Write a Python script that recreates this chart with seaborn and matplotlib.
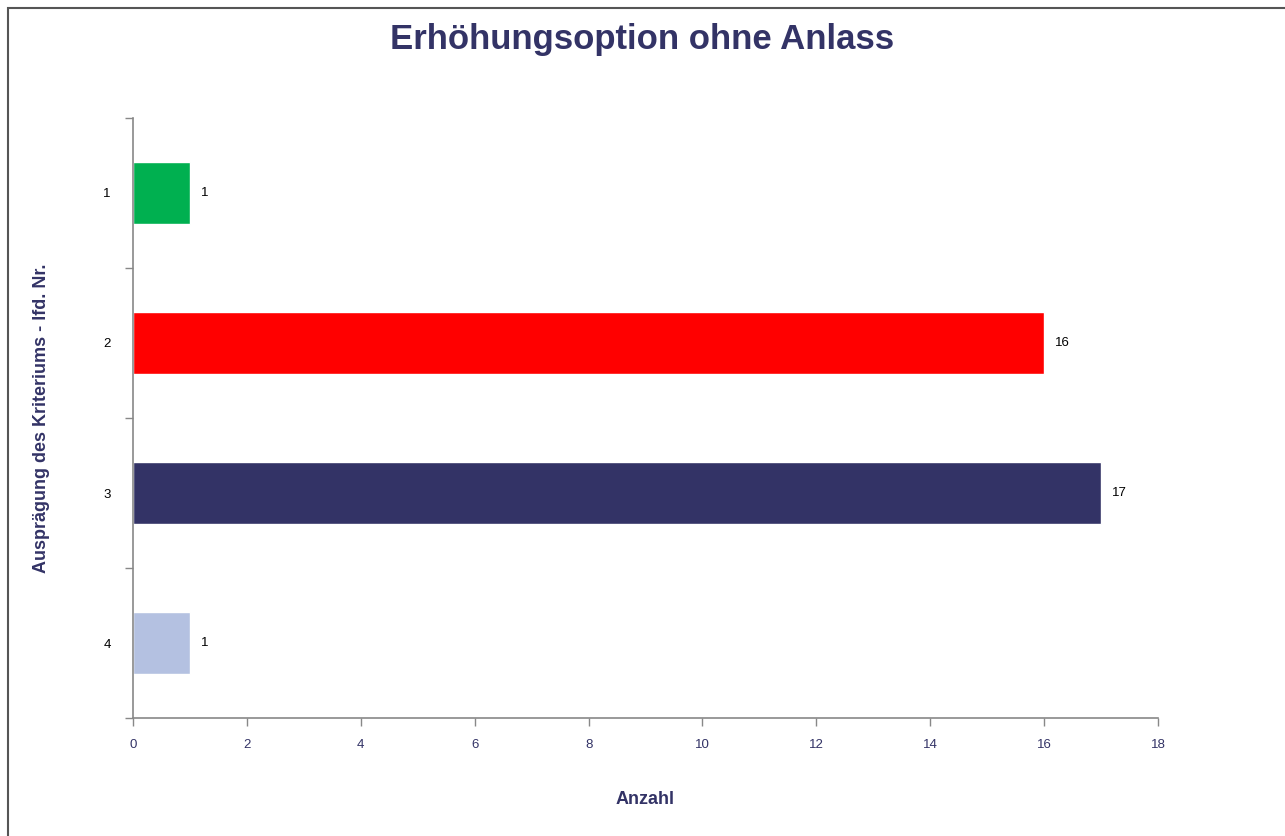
import numpy as np
import pandas as pd
import matplotlib
matplotlib.use("Agg")
import matplotlib.pyplot as plt
import seaborn as sns
from matplotlib.patches import Rectangle
from matplotlib.ticker import FixedLocator

# Data
categories = ["1", "2", "3", "4"]
counts = [1, 16, 17, 1]
bar_colors = ["#00B050", "#FF0000", "#333366", "#B4C1E1"]

sns.set_style("white")
plt.rcParams["font.family"] = ["Liberation Sans", "DejaVu Sans"]

navy = "#333366"
df = pd.DataFrame({"Kategorie": categories, "Anzahl": counts})

fig = plt.figure(figsize=(12.85, 8.36), dpi=100)
ax = fig.add_axes([0.1035, 0.1411, 0.7977, 0.7178])

sns.barplot(data=df, x="Anzahl", y="Kategorie", hue="Kategorie", palette=bar_colors,
            orient="h", width=0.41, legend=False, ax=ax, saturation=1)

for c in ax.containers:
    ax.bar_label(c, padding=8, fontsize=9.5, color="black")

ax.set_xlim(0, 18)
ax.set_ylim(3.5, -0.5)
ax.set_xticks(np.arange(0, 19, 2))
ax.tick_params(axis="x", direction="out", length=6, width=1, color="#888888",
               labelsize=9.5, labelcolor=navy, pad=9, bottom=True)
ax.tick_params(axis="y", which="major", length=0, labelsize=9.5, labelcolor="black", pad=16)
ax.yaxis.set_minor_locator(FixedLocator([-0.5, 0.5, 1.5, 2.5, 3.5]))
ax.tick_params(axis="y", which="minor", direction="out", length=6, width=1,
               color="#888888", left=True)

sns.despine(ax=ax)
for s in ["left", "bottom"]:
    ax.spines[s].set_color("#888888")
    ax.spines[s].set_linewidth(1.2)

ax.set_xlabel("Anzahl", fontsize=13, fontweight="bold", color=navy, labelpad=29)
ax.set_ylabel("Ausprägung des Kriteriums - lfd. Nr.", fontsize=13, fontweight="bold",
              color=navy, labelpad=38)
fig.suptitle("Erhöhungsoption ohne Anlass", fontsize=25, fontweight="bold",
             color=navy, y=0.973)

fig.patches.append(Rectangle((8 / 1285, -0.01), 1.1, 1 - 8 / 836 + 0.01,
                             transform=fig.transFigure, fill=False,
                             edgecolor="#555555", linewidth=1.5))

fig.savefig("out.png", dpi=100)
